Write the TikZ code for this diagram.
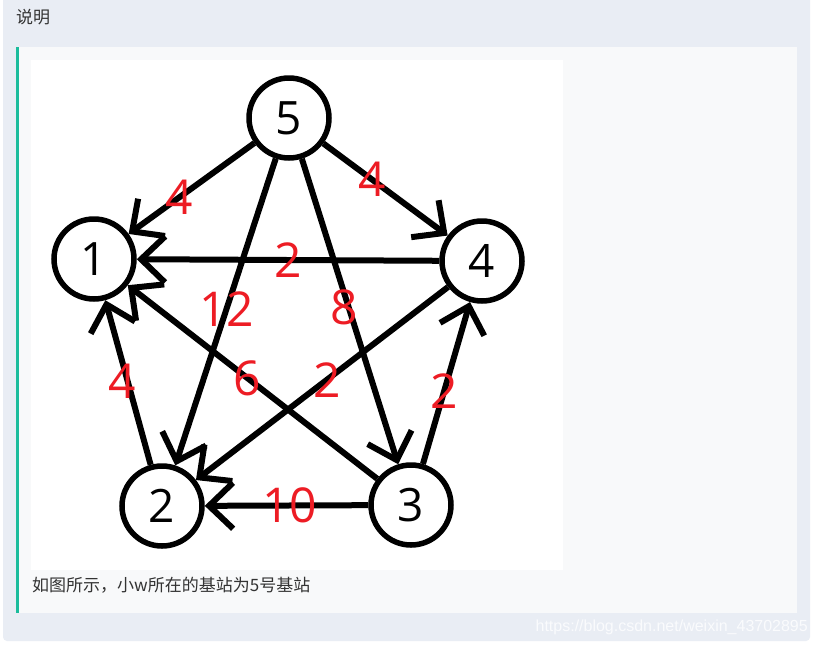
\documentclass[tikz,border=0pt]{standalone}
\usepackage{fontspec}
\setmainfont{Open Sans}
\newfontfamily\cjk{Noto Sans CJK SC}
\newfontfamily\urlfont{Liberation Sans}
\usetikzlibrary{arrows.meta}
\definecolor{panelbg}{RGB}{233,237,244}
\definecolor{quotebg}{RGB}{248,249,250}
\definecolor{quotebar}{RGB}{26,188,156}
\definecolor{wtred}{RGB}{237,28,36}
\definecolor{bodytext}{RGB}{51,51,51}
\definecolor{wmark}{RGB}{250,251,253}

\begin{document}
\begin{tikzpicture}[x=1pt, y=-1pt,
  station/.style={draw, circle, line width=5.5pt, minimum size=80pt, inner sep=0pt,
                  font=\fontsize{46}{46}\selectfont},
  link/.style={line width=6pt, -{Straight Barb[length=24pt, width=46pt]}},
  wt/.style={text=wtred, inner sep=0pt, font=\fontsize{48}{48}\selectfont},
  uitext/.style={text=bodytext, anchor=west, inner sep=0pt,
                 font=\cjk\fontsize{17}{17}\selectfont}]
  \useasboundingbox (0,0) rectangle (818,646);
  \fill[white] (0,0) rectangle (818,646);
  \fill[panelbg, rounded corners=4pt] (3,-10) rectangle (810,641);
  \fill[quotebg] (16,47) rectangle (797,613);
  \fill[quotebar] (16,47) rectangle (19,613);
  \fill[white] (31,60) rectangle (563,570);

  \node[uitext] (title) at (16,17) {说明};
  \node[uitext] (caption) at (32,585) {如图所示，小w所在的基站为5号基站};
  \node[anchor=east, inner sep=0pt, text=wmark, font=\urlfont\fontsize{16}{16}\selectfont]
    (wm) at (808,627) {https://blog.csdn.net/weixin\_43702895};

  \node[station] (n5) at (289,118) {5};
  \node[station] (n1) at (94,259)  {1};
  \node[station] (n4) at (482,261) {4};
  \node[station] (n2) at (162,506) {2};
  \node[station] (n3) at (411,505) {3};

  \draw[link] (n5) -- node[wt, pos=0.60] {4}  (n1);
  \draw[link] (n5) -- node[wt, pos=0.39] {4}  (n4);
  \draw[link] (n4) -- node[wt, pos=0.50] {2}  (n1);
  \draw[link] (n5) -- node[wt, pos=0.49] {12} (n2);
  \draw[link] (n5) -- node[wt, pos=0.485, xshift=-4pt] {8} (n3);
  \draw[link] (n3) -- node[wt, pos=0.52] {6}  (n1);
  \draw[link] (n4) -- node[wt, pos=0.48] {2}  (n2);
  \draw[link] (n2) -- node[wt, pos=0.51, xshift=-5pt] {4} (n1);
  \draw[link] (n3) -- node[wt, pos=0.45] {2}  (n4);
  \draw[link] (n3) -- node[wt, pos=0.48] {10} (n2);
\end{tikzpicture}
\end{document}
